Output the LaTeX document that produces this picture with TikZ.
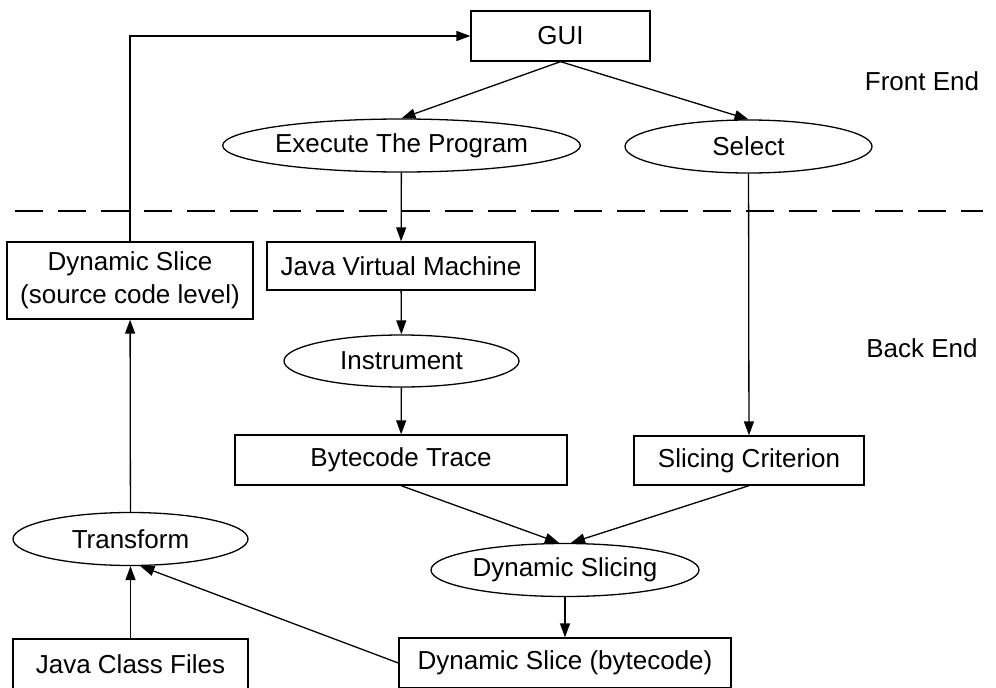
\documentclass[tikz,border=0pt]{standalone}
\usepackage{fontspec}
\setmainfont{Liberation Sans}
\usetikzlibrary{arrows.meta,shapes.geometric}

\begin{document}
\begin{tikzpicture}[x=1pt, y=-1pt, line width=1.3pt,
			box/.style={draw, rectangle, inner sep=0pt, minimum height=50pt},
			oval/.style={draw, ellipse, inner sep=0pt, minimum height=53pt},
			tag/.style={anchor=base, inner sep=0pt},
			separator/.style={dash pattern=on 28pt off 15pt},
			every node/.style={font=\fontsize{26}{33}\selectfont},
			>={Triangle[length=14pt,width=10pt]}]
	\useasboundingbox (0,0) rectangle (996,688);
	\node[box, minimum width=179pt] (gui) at (560.5,36) {GUI};
	\node[oval, minimum width=313pt] (exec) at (401.5,145.5) {Execute The Program};
	\node[oval, minimum width=247pt] (select) at (748.5,146.5) {Select};
	\node[tag] (front) at (922,90) {Front End};
	\node[tag] (back) at (922,357) {Back End};
	\node[box, minimum width=246pt, minimum height=77pt, align=center] (dsrc) at (130,280.5) {Dynamic Slice\\(source code level)};
	\node[box, minimum width=268pt, minimum height=48pt] (jvm) at (401,266) {Java Virtual Machine};
	\node[oval, minimum width=235pt, minimum height=52pt] (instr) at (401.5,361) {Instrument};
	\node[box, minimum width=332pt] (trace) at (401,460) {Bytecode Trace};
	\node[box, minimum width=230pt, minimum height=49pt] (crit) at (749,460.5) {Slicing Criterion};
	\node[oval, minimum width=268pt] (slicing) at (565,570) {Dynamic Slicing};
	\node[oval, minimum width=235pt] (transform) at (130.5,539) {Transform};
	\node[box, minimum width=235pt] (classes) at (130.5,664) {Java Class Files};
	\node[box, minimum width=332pt] (dsbc) at (565,663) {Dynamic Slice (bytecode)};
	\draw[separator] (15,211) -- (983,211);
	\draw[->] (dsrc.north) |- (gui.west);
	\draw[->] (gui.south) -- (exec.north);
	\draw[->] (gui.south) -- (select.north);
	\draw[->] (exec) -- (jvm);
	\draw[->] (select) -- (crit);
	\draw[->] (jvm) -- (instr);
	\draw[->] (instr) -- (trace);
	\draw[->] (trace.south) -- ([xshift=-6pt]slicing.north);
	\draw[->] (crit.south) -- ([xshift=6pt]slicing.north);
	\draw[->] (slicing) -- (dsbc);
	\draw[->] (dsbc.west) -- (transform.-70);
	\draw[->] (classes) -- (transform);
	\draw[->] (transform) -- (dsrc);
\end{tikzpicture}
\end{document}
